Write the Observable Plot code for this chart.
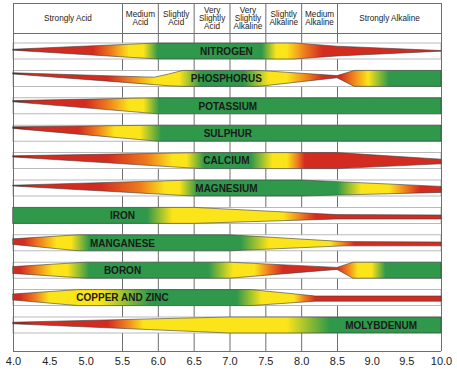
<!DOCTYPE html>
<html>
<head>
<meta charset="utf-8">
<script src="https://cdn.jsdelivr.net/npm/d3@7"></script>
<script src="https://cdn.jsdelivr.net/npm/@observablehq/plot@0.6"></script>
<style>
  html, body { margin: 0; padding: 0; background: #ffffff; }
  #chart svg { display: block; }
</style>
</head>
<body>
<div id="chart"></div>
<script>
// ---------- data ----------
const nutrients = ["NITROGEN", "PHOSPHORUS", "POTASSIUM", "SULPHUR", "CALCIUM", "MAGNESIUM",
  "IRON", "MANGANESE", "BORON", "COPPER AND ZINC", "MOLYBDENUM"];
const labelPH = [6.95, 6.95, 6.97, 6.97, 6.95, 6.95, 5.5, 5.5, 5.5, 5.5, 9.13];

const headerEdges = [4.0, 5.5, 6.0, 6.5, 7.0, 7.5, 8.0, 8.5, 10.0];
const headerLabels = ["Strongly Acid", "Medium\nAcid", "Slightly\nAcid", "Very\nSlightly\nAcid",
  "Very\nSlightly\nAlkaline", "Slightly\nAlkaline", "Medium\nAlkaline", "Strongly Alkaline"];
const gridPH = [5.5, 6.0, 6.5, 7.0, 7.5, 8.0, 8.5];
const tickValues = [4.0, 4.5, 5.0, 5.5, 6.0, 6.5, 7.0, 7.5, 8.0, 8.5, 9.0, 9.5, 10.0];

// band outline: [pH, top edge, bottom edge] (relative to full band half-height)
const nitrogenShape   = [[4.0,-0.22,-0.1],[6.0,-1,1],[7.9,-1,1],[8.5,-0.6,0.62],[10.0,-0.06,0.02]];
const phosphorusShape = [[4.0,-0.7,-0.55],[5.95,-0.15,0.78],[6.15,-0.55,0.92],[6.35,-1,1],[7.4,-1,1],[8.5,-0.35,-0.08],[8.75,-1,1],[10.0,-1,1]];
const potassiumShape  = [[4.0,-0.65,-0.5],[6.0,-1,1],[10.0,-1,1]];
const sulphurShape    = [[4.0,-0.8,-0.6],[6.0,-1,1],[10.0,-1,1]];
const calciumShape    = [[4.0,-0.6,-0.45],[6.6,-1,1],[8.5,-1,1],[10.0,-0.18,0.4]];
const magnesiumShape  = [[4.0,-0.35,-0.25],[6.5,-1,1],[8.0,-1,1],[10.0,-0.2,0.55]];
const ironShape       = [[4.0,-1,1],[6.5,-1,1],[8.5,-0.1,0.45],[10.0,-0.05,0.45]];
const manganeseShape  = [[4.0,-0.5,0.2],[4.9,-1,1],[7.0,-1,1],[8.6,-0.15,0.38],[10.0,-0.1,0.38]];
const boronShape      = [[4.0,-0.45,0.4],[5.0,-1,1],[7.0,-1,1],[8.5,-0.35,-0.1],[8.73,-1,1],[10.0,-1,1]];
const copperZincShape = [[4.0,-0.45,0.3],[4.9,-1,1],[7.3,-1,1],[8.2,-0.2,0.45],[10.0,-0.2,0.45]];
const molybdenumShape = [[4.0,-0.35,-0.15],[7.0,-1,1],[10.0,-1,1]];

// colour along pH: D dark red, R red, O orange, Y yellow, G green
const nitrogenColors   = [[4.0,"D"],[4.3,"R"],[5.1,"R"],[5.35,"O"],[5.6,"Y"],[5.8,"Y"],[6.0,"G"],[7.45,"G"],[7.65,"Y"],[7.8,"Y"],[8.05,"O"],[8.3,"R"],[9.9,"R"],[10.0,"D"]];
const phosphorusColors = [[4.0,"D"],[4.3,"R"],[5.3,"R"],[5.6,"O"],[5.95,"Y"],[6.3,"Y"],[6.6,"G"],[7.2,"G"],[7.55,"Y"],[7.8,"Y"],[8.1,"O"],[8.3,"R"],[8.55,"R"],[8.72,"O"],[8.95,"Y"],[9.25,"G"],[10.0,"G"]];
const potassiumColors  = [[4.0,"D"],[4.3,"R"],[5.0,"R"],[5.3,"O"],[5.6,"Y"],[5.8,"Y"],[6.02,"G"],[10.0,"G"]];
const sulphurColors    = [[4.0,"D"],[4.3,"R"],[4.9,"R"],[5.15,"O"],[5.4,"Y"],[5.75,"Y"],[6.05,"G"],[10.0,"G"]];
const calciumColors    = [[4.0,"D"],[4.3,"R"],[5.3,"R"],[5.85,"O"],[6.2,"Y"],[6.4,"Y"],[6.65,"G"],[7.3,"G"],[7.6,"Y"],[7.8,"Y"],[7.95,"O"],[8.05,"R"],[10.0,"R"]];
const magnesiumColors  = [[4.0,"D"],[4.3,"R"],[5.2,"R"],[5.75,"O"],[6.1,"Y"],[6.3,"Y"],[6.55,"G"],[8.5,"G"],[8.85,"Y"],[9.25,"Y"],[9.5,"O"],[9.7,"R"],[10.0,"R"]];
const ironColors       = [[4.0,"G"],[5.85,"G"],[6.2,"Y"],[7.75,"Y"],[8.0,"O"],[8.2,"R"],[10.0,"R"]];
const manganeseColors  = [[4.0,"R"],[4.15,"R"],[4.35,"O"],[4.6,"Y"],[4.8,"Y"],[5.05,"G"],[7.15,"G"],[7.55,"Y"],[8.4,"Y"],[8.6,"O"],[8.75,"R"],[10.0,"R"]];
const boronColors      = [[4.0,"R"],[4.1,"R"],[4.3,"O"],[4.55,"Y"],[4.75,"Y"],[5.05,"G"],[6.7,"G"],[7.05,"Y"],[7.35,"Y"],[7.55,"O"],[7.75,"R"],[8.5,"R"],[8.65,"O"],[8.8,"Y"],[9.0,"Y"],[9.2,"G"],[10.0,"G"]];
const copperZincColors = [[4.0,"R"],[4.1,"R"],[4.3,"O"],[4.5,"Y"],[5.2,"Y"],[5.9,"G"],[7.1,"G"],[7.45,"Y"],[7.9,"Y"],[8.05,"O"],[8.2,"R"],[10.0,"R"]];
const molybdenumColors = [[4.0,"D"],[4.3,"R"],[5.3,"R"],[5.55,"O"],[5.8,"Y"],[7.8,"Y"],[8.4,"G"],[10.0,"G"]];

const palette = {D: "#8a1712", R: "#d42b20", O: "#ee7b1d", Y: "#fbe41a", G: "#2f984a"};

const shapes = [nitrogenShape, phosphorusShape, potassiumShape, sulphurShape, calciumShape,
  magnesiumShape, ironShape, manganeseShape, boronShape, copperZincShape, molybdenumShape];
const colorStops = [nitrogenColors, phosphorusColors, potassiumColors, sulphurColors, calciumColors,
  magnesiumColors, ironColors, manganeseColors, boronColors, copperZincColors, molybdenumColors];

// ---------- layout (row units) ----------
const H = 0.292;           // half band height in row units
const headerTop = -1.752;
const headerBottom = -0.657;
const plotBottom = 10.949;
const headerMid = -1.204;

const rows = nutrients.map((name, i) => ({name, i, px: labelPH[i]}));
const headerCells = headerLabels.map((label, i) => ({label, mid: (headerEdges[i] + headerEdges[i + 1]) / 2}));

// gradients built from the plot's own x scale
const gradients = (index, scales) => {
  const x = scales.x;
  const defs = d3.create("svg:defs");
  const x0 = x(4.0), x1 = x(10.0);
  colorStops.forEach((stops, i) => {
    const g = defs.append("linearGradient")
      .attr("id", "grad" + i)
      .attr("gradientUnits", "userSpaceOnUse")
      .attr("x1", x0).attr("x2", x1).attr("y1", 0).attr("y2", 0);
    stops.forEach(([p, k]) => g.append("stop")
      .attr("offset", (x(p) - x0) / (x1 - x0))
      .attr("stop-color", palette[k]));
  });
  return defs.node();
};

const bandMarks = shapes.map((shape, i) => Plot.areaY(shape, {
  x: d => d[0],
  y1: d => i + d[1] * H,
  y2: d => i + d[2] * H,
  fill: "url(#grad" + i + ")",
  stroke: "#3c3c3c",
  strokeWidth: 0.6
}));

const chart = Plot.plot({
  width: 457,
  height: 374,
  marginTop: 3,
  marginBottom: 23,
  marginLeft: 13,
  marginRight: 16,
  style: {fontFamily: "'Liberation Sans', Arial, sans-serif", fontSize: "11px", color: "#222", background: "#ffffff"},
  x: {type: "linear", domain: [4.0, 5.5, 8.5, 10.0], range: [13, 122, 337, 441],
      ticks: tickValues, tickFormat: d3.format(".1f"), tickSize: 0, tickPadding: 6, label: null},
  y: {type: "linear", domain: [headerTop, plotBottom], range: [3, 351], axis: null},
  marks: [
    gradients,
    // grid verticals (table columns)
    Plot.ruleX(gridPH, {y1: headerTop, y2: plotBottom, stroke: "#6e6e6e", strokeWidth: 1}),
    // row strips masking the grid
    Plot.rect(rows, {x1: 4.0, x2: 10.0, y1: d => d.i - H, y2: d => d.i + H, fill: "#ffffff", stroke: "#a8a8a8", strokeWidth: 0.8}),
    // frame
    Plot.ruleX([4.0, 10.0], {y1: headerTop, y2: plotBottom, stroke: "#6e6e6e", strokeWidth: 1}),
    Plot.ruleY([headerTop, headerBottom, plotBottom], {x1: 4.0, x2: 10.0, stroke: "#6e6e6e", strokeWidth: 1}),
    // bands
    ...bandMarks,
    // nutrient names
    Plot.text(rows, {x: "px", y: "i", text: "name", fontSize: 10, fontWeight: "bold",
      fontFamily: "'Liberation Sans', Arial, sans-serif",
      fill: "#1a1a1a", textAnchor: "middle"}),
    // header labels
    Plot.text(headerCells, {x: "mid", y: headerMid, text: "label", fontSize: 8.2, lineHeight: 1.0,
      lineAnchor: "middle", fill: "#222", textAnchor: "middle"})
  ]
});

document.getElementById("chart").appendChild(chart);
</script>
</body>
</html>
